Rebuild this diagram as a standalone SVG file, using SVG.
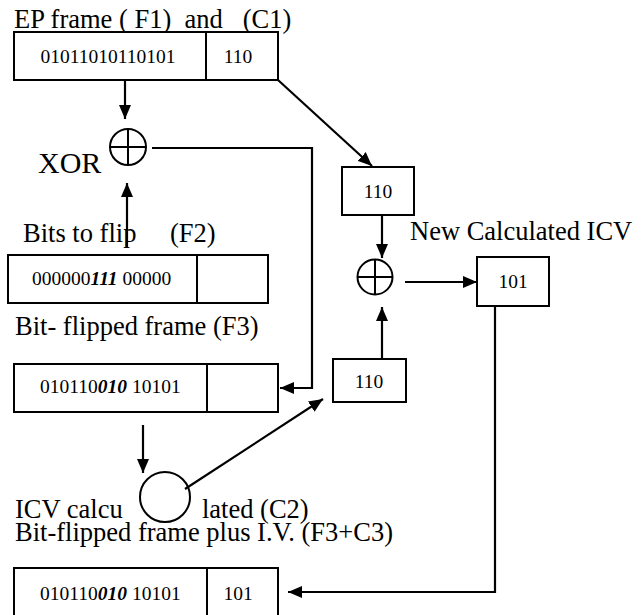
<svg xmlns="http://www.w3.org/2000/svg" width="643" height="615" viewBox="0 0 643 615">
<style>
text{font-family:"Liberation Serif","Times New Roman",serif;fill:#000;white-space:pre}
.lbl{font-size:26.5px}
.bx{font-size:19.5px}
.bi{font-weight:bold;font-style:italic}
rect{fill:#fff;stroke:#000;stroke-width:2}
.dv{stroke:#000;stroke-width:2}
.c{fill:none;stroke:#000;stroke-width:2}
.ar{fill:none;stroke:#000;stroke-width:2.2;marker-end:url(#ah)}
</style>
<defs>
<marker id="ah" viewBox="0 0 14 12" refX="14" refY="6" markerWidth="14" markerHeight="12" markerUnits="userSpaceOnUse" orient="auto">
<path d="M0,0 L14,6 L0,12 z" fill="#000"/>
</marker>
</defs>
<g id="labels">
<text class="lbl" x="14" y="28">EP frame ( F1)  and   (C1)</text>
<text x="38" y="173" style="font-size:30px">XOR</text>
<text class="lbl" x="23" y="242">Bits to flip</text>
<text class="lbl" x="170" y="242">(F2)</text>
<text class="lbl" x="15" y="335">Bit- flipped frame (F3)</text>
<text class="lbl" x="410" y="240">New Calculated ICV</text>
<text class="lbl" x="15" y="518">ICV calcu</text>
<text class="lbl" x="202" y="518">lated (C2)</text>
<text class="lbl" x="15" y="541">Bit-flipped frame plus I.V. (F3+C3)</text>
</g>
<g id="f1">
<rect x="14" y="32" width="264" height="48"/>
<line class="dv" x1="206" y1="32" x2="206" y2="80"/>
<text class="bx" x="108" y="63" text-anchor="middle">01011010110101</text>
<text class="bx" x="238" y="63" text-anchor="middle">110</text>
</g>
<g id="xor1">
<circle class="c" cx="128" cy="147" r="18"/>
<line class="c" x1="110" y1="147" x2="146" y2="147"/>
<line class="c" x1="128" y1="129" x2="128" y2="165"/>
</g>
<g id="f2">
<rect x="8" y="255" width="260" height="48"/>
<line class="dv" x1="197" y1="255" x2="197" y2="303"/>
<text class="bx" x="32" y="285">000000<tspan class="bi">111</tspan> 00000</text>
</g>
<g id="f3">
<rect x="14" y="364" width="264" height="48"/>
<line class="dv" x1="207" y1="364" x2="207" y2="412"/>
<text class="bx" x="40" y="393">010110<tspan class="bi">010</tspan> 10101</text>
</g>
<g id="icvcalc">
<circle class="c" cx="165" cy="497" r="25"/>
</g>
<g id="f4">
<rect x="14" y="568" width="264" height="48"/>
<line class="dv" x1="207" y1="568" x2="207" y2="616"/>
<text class="bx" x="40" y="600">010110<tspan class="bi">010</tspan> 10101</text>
<text class="bx" x="238" y="600" text-anchor="middle">101</text>
</g>
<g id="c1copy">
<rect x="342" y="167" width="72" height="48"/>
<text class="bx" x="378" y="198" text-anchor="middle">110</text>
</g>
<g id="xor2">
<circle class="c" cx="375" cy="277" r="17.5"/>
<line class="c" x1="357.5" y1="277" x2="392.5" y2="277"/>
<line class="c" x1="375" y1="259.5" x2="375" y2="294.5"/>
</g>
<g id="newicv">
<rect x="477" y="257" width="72" height="49"/>
<text class="bx" x="513" y="288" text-anchor="middle">101</text>
</g>
<g id="c2">
<rect x="333" y="359" width="73" height="43"/>
<text class="bx" x="369" y="388" text-anchor="middle">110</text>
</g>
<g id="connectors">
<path class="ar" d="M125,80 V119"/>
<path class="ar" d="M127,248 V183"/>
<path class="ar" d="M152,148 H312 V388 H280"/>
<path class="ar" d="M143,425 V473"/>
<path class="ar" d="M185,489 L323,399"/>
<path class="ar" d="M278,80 L372,166"/>
<path class="ar" d="M382,215 V258"/>
<path class="ar" d="M382,359 V307"/>
<path class="ar" d="M405,282 H477"/>
<path class="ar" d="M495,306 V592 H288"/>
</g>
</svg>
